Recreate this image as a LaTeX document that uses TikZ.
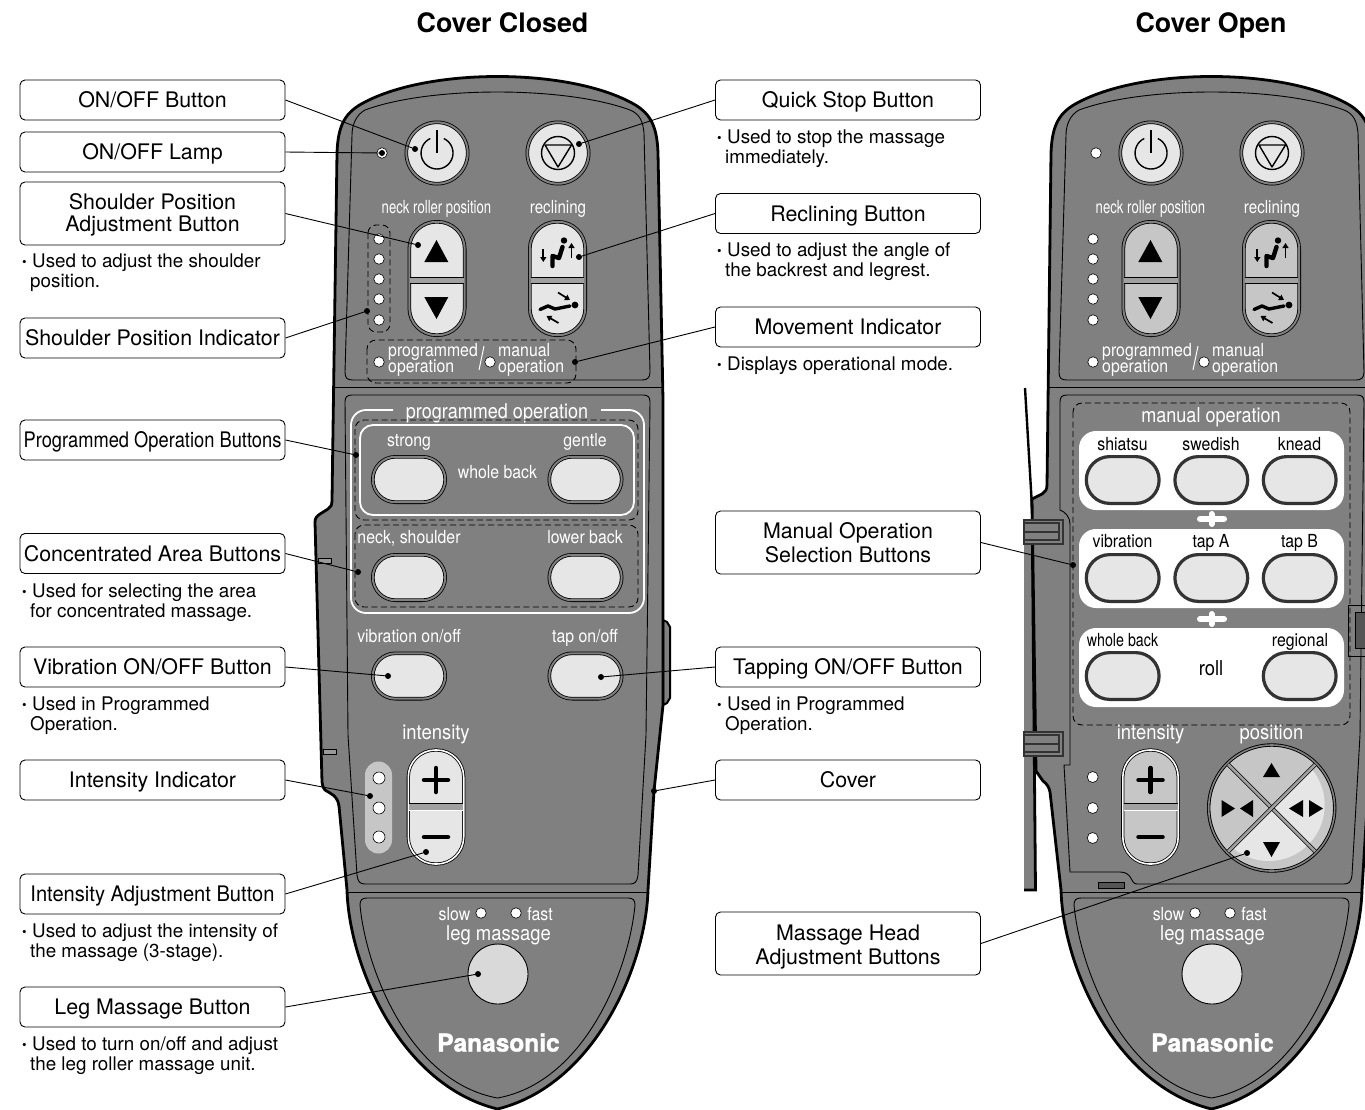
\documentclass[tikz,border=0pt]{standalone}
\usepackage{graphicx}
\usepackage{fontspec}
\setmainfont{TeX Gyre Heros}
\newfontfamily\makerfont[BoldFeatures={FakeBold=1.4}]{TeX Gyre Heros}
\usepackage{xcolor}
\usepackage{tikz}
\usetikzlibrary{shapes,arrows.meta,positioning,calc}

\definecolor{housing}{HTML}{808080}
\definecolor{keylight}{HTML}{E6E6E6}
\definecolor{keymid}{HTML}{C6C6C6}
\definecolor{rimdark}{HTML}{333333}
\definecolor{slotdark}{HTML}{555555}

\newcommand{\cn}[2]{\scalebox{#1}[1]{#2}}
\newcommand{\bul}{\makebox[10pt][l]{\fontsize{13}{13}\selectfont\raisebox{1.5pt}{•}}}
\newcommand{\nxt}{\\\hspace*{8pt}}

\tikzset{
    labelbox/.style={draw, line width=0.9pt, rounded corners=5pt, minimum width=265pt, minimum height=40pt, inner sep=0pt, align=center, font=\fontsize{21.4}{22}\selectfont},
    labelone/.style={labelbox, text height=15.4pt, text depth=0pt},
    notetxt/.style={anchor=west, inner sep=0pt, align=left, font=\fontsize{18.8}{20}\selectfont},
    headtxt/.style={inner sep=0pt, text height=19.2pt, text depth=0pt, font=\bfseries\fontsize{26.8}{30}\selectfont},
    remtxt/.style={text=white, inner sep=0pt, text height=13pt, text depth=0pt, font=\fontsize{18}{18}\selectfont},
    bigtxt/.style={remtxt, font=\fontsize{20.5}{20}\selectfont},
    blacktxt/.style={remtxt, text=black},
    leftrem/.style={remtxt, anchor=west},
    panelline/.style={line width=0.9pt},
    dashline/.style={line width=0.9pt, dash pattern=on 6pt off 3.5pt, rounded corners=9pt},
    whiteline/.style={draw=white, line width=1.8pt},
    roundkey/.style={circle, draw=black, line width=0.8pt, double=housing, double distance=2pt, inner sep=0pt, minimum size=61.4pt},
    rockerkey/.style={rectangle, rounded corners=27pt, draw=black, line width=0.8pt, double=housing, double distance=2pt, inner sep=0pt, minimum width=55.4pt, minimum height=113.4pt},
    ovalkey/.style={rounded rectangle, draw=black, line width=0.8pt, double=housing, double distance=2pt, fill=keylight, inner sep=0pt, minimum width=72.4pt, minimum height=45.4pt},
    manualkey/.style={rounded rectangle, draw=rimdark, line width=3.2pt, fill=keylight, inner sep=0pt, minimum width=72.8pt, minimum height=46.8pt},
    lednode/.style={circle, draw=black, line width=0.6pt, fill=white, inner sep=0pt, minimum size=10.5pt},
    iconline/.style={line width=1.4pt},
    seatline/.style={line width=4.4pt, line cap=round, line join=round},
    seatarrow/.style={line width=1.7pt, -{Triangle[length=5pt,width=6pt]}},
    signline/.style={line width=4.5pt, line cap=round},
    keyband/.style={fill=housing!75!white},
    leader/.style={line width=0.9pt},
    leaderdot/.style={circle, fill=black, inner sep=0pt, minimum size=6pt}
}

% upper part, same on both remotes; #1 = fill of the rocker keys
\newcommand{\remotetop}[1]{
    \draw[panelline] (345,372) -- (352,135) .. controls (352,125) and (356,115) .. (365,110)
        .. controls (430,86) and (565,86) .. (630,110) .. controls (640,114) and (643,122) .. (644,133)
        -- (650,372) .. controls (650,378) and (647,380) .. (642,380) -- (353,380)
        .. controls (347,380) and (345,378) .. (345,372);
    \draw[panelline] (333,387) -- (663,387);

    \node[roundkey, fill=keylight] (pwrkey) at (437,153) {};
    \draw[iconline] (437,130) -- (437,153);
    \draw[iconline] (443.8,138.5) arc[start angle=65, end angle=-245, radius=16pt];
    \node[roundkey, fill=keylight] (stopkey) at (558,153) {};
    \node[circle, draw, iconline, inner sep=0pt, minimum size=33pt] (stopring) at (558,153) {};
    \draw[iconline, line join=round] (545,145) -- (571.5,145) -- (558,167) -- cycle;

    \node[remtxt] (necktxt) at (436.5,207) {\cn{.73}{neck roller position}};
    \node[remtxt] (recltxt) at (558,207) {\cn{.84}{reclining}};

    \node[rockerkey, fill=#1] (neckkey) at (437,278.5) {};
    \fill[keyband] (410,277) rectangle (464,283);
    \draw[line width=0.7pt] (410,277) -- (464,277) (410,283) -- (464,283);
    \fill (424.3,262) -- (448.3,262) -- (436.5,240) -- cycle;
    \fill (424.3,297) -- (448.3,297) -- (436.5,319) -- cycle;

    \node[rockerkey, fill=#1] (reclkey) at (557.5,278.5) {};
    \fill[keyband] (531,277) rectangle (584,283);
    \draw[line width=0.7pt] (531,277) -- (584,277) (531,283) -- (584,283);
    % seated and lying figures
    \fill (564,240.5) circle (3.2pt);
    \draw[seatline] (562.5,247) -- (559,258) -- (552.5,256) -- (552.5,266);
    \draw[seatarrow] (543.3,249) -- (543.3,262);
    \draw[seatarrow] (571.5,258) -- (571.5,243);
    \fill (575,305) circle (3.4pt);
    \draw[seatline, line width=3.4pt] (540,309.5) -- (548,306) -- (555,309) -- (570,306);
    \draw[seatarrow] (558,292.5) -- (570,300);
    \draw[seatarrow] (558.5,323) -- (546.5,316);

    \foreach \y in {239,259,279,299,320} {
        \node[lednode] (necklamp\y) at (379,\y) {};
    }
    \node[lednode] (proglamp) at (379,362) {};
    \node[lednode] (manlamp) at (490,362) {};
    \node[leftrem] (progtxta) at (388,350) {\cn{.88}{programmed}};
    \node[leftrem] (progtxtb) at (388,366) {\cn{.88}{operation}};
    \draw[draw=white, line width=1pt] (479,370) -- (484,346);
    \node[leftrem] (mantxta) at (498,350) {\cn{.88}{manual}};
    \node[leftrem] (mantxtb) at (498,366) {\cn{.88}{operation}};
}

% intensity column and leg panel; #1 = fill of the intensity keys
\newcommand{\remotebottom}[2]{
    \node[bigtxt] (inttxt) at (#2,733) {\cn{.9}{intensity}};
    \node[rockerkey, fill=#1, double=white, double distance=1.6pt, minimum height=114pt] (intkey) at (#2,807) {};
    \fill[keyband] (#2-27,803) rectangle (#2+27,811);
    \draw[line width=0.7pt] (#2-27,803) -- (#2+27,803);
    \draw[line width=1.6pt, white] (#2-27,810.5) -- (#2+27,810.5);
    \draw[signline] (#2-12,780) -- (#2+12,780) (#2,768) -- (#2,792);
    \draw[signline] (#2-12,837) -- (#2+12,837);

    \draw[panelline] (346,892) -- (648,892);
    \draw[panelline] (360,905) .. controls (360,900) and (362,898) .. (367,898) -- (628,898)
        .. controls (633,898) and (635,900) .. (635,905)
        .. controls (629,970) and (585,1082) .. (497.5,1098)
        .. controls (410,1082) and (366,970) .. (360,905);
    \node[remtxt] (slowtxt) at (454.5,914) {\cn{.88}{slow}};
    \node[lednode] (slowlamp) at (481,913) {};
    \node[lednode] (fastlamp) at (516,913) {};
    \node[remtxt] (fasttxt) at (540,914) {\cn{.88}{fast}};
    \node[bigtxt] (legtxt) at (498.5,934) {\cn{.9}{leg massage}};
    \node[remtxt, inner sep=0pt, text height=17pt, text depth=0pt, font=\makerfont\bfseries\fontsize{24.5}{24}\selectfont] (makertxt) at (498.5,1043) {Panasonic};
}

\begin{document}
\begin{tikzpicture}[x=1pt, y=-1pt]
    \useasboundingbox (0,0) rectangle (1365,1109);

    \node[headtxt] (closedhead) at (502.5,23) {Cover Closed};
    \node[headtxt] (openhead) at (1211,23) {Cover Open};

    \begin{scope}
    \clip (0,0) rectangle (1365,1109);

    % Cover closed
    \draw[line width=2pt, fill=housing] (663,620) -- (667,622) -- (670,627) -- (670,698) -- (667,703) -- (663,705) -- cycle;
    \draw[line width=2.8pt, fill=housing, line join=round] (337,153) .. controls (338,125) and (345,112) .. (365,102)
        .. controls (430,68) and (565,68) .. (630,102) .. controls (650,112) and (657,125) .. (658,153)
        -- (663,400) -- (663,705) -- (654,791) -- (648,890)
        .. controls (646,965) and (595,1085) .. (497.5,1109)
        .. controls (400,1085) and (349,965) .. (347,890)
        -- (339,806) .. controls (338,799) and (335,796) .. (330,793) -- (325,790) .. controls (323,788) and (323,787) .. (322,782)
        -- (315,522) .. controls (315,518) and (317,516) .. (320,514) -- (328,509) .. controls (331,507) and (332,505) .. (332,500)
        -- cycle;
    \draw[line width=0.7pt, fill=housing!80!white] (318,558) rectangle (331,563);
    \draw[line width=0.7pt, fill=housing!80!white] (323,749) rectangle (336,754);
    \remotetop{keylight}
    \draw[panelline] (345,402) .. controls (345,397) and (347,395) .. (352,395) -- (643,395)
        .. controls (648,395) and (650,397) .. (650,402) -- (646,735) -- (638,875)
        .. controls (637,882) and (635,884) .. (630,884) -- (365,884)
        .. controls (360,884) and (358,882) .. (357,875) -- (348,735) -- cycle;

    \draw[dashline, rounded corners=8pt] (368,225) rectangle (390,332);
    \draw[dashline] (367,340) rectangle (576,383);

    \draw[whiteline, rounded corners=15pt] (393,410) -- (351,410) -- (351,613) -- (644,613) -- (644,410) -- (601,410);
    \node[bigtxt] (progtitle) at (497,412) {\cn{.88}{programmed operation}};
    \draw[whiteline, rounded corners=13pt] (360,425) rectangle (634,515);
    \draw[dashline] (355,420) rectangle (638,520);
    \draw[dashline] (355,525) rectangle (638,607);

    \node[remtxt] (strongtxt) at (409,440) {\cn{.88}{strong}};
    \node[remtxt] (gentletxt) at (585,440) {\cn{.88}{gentle}};
    \node[remtxt] (backtxt) at (497.5,472) {\cn{.88}{whole back}};
    \node[remtxt] (necktxtb) at (409,537) {\cn{.88}{neck, shoulder}};
    \node[remtxt] (lowertxt) at (585,537) {\cn{.88}{lower back}};
    \node[remtxt] (vibtxt) at (409,636) {\cn{.88}{vibration on/off}};
    \node[remtxt] (taptxt) at (585,636) {\cn{.88}{tap on/off}};
    \node[ovalkey] (strongkey) at (409,479.5) {};
    \node[ovalkey] (gentlekey) at (585.5,479.5) {};
    \node[ovalkey] (neckoval) at (409,577.5) {};
    \node[ovalkey] (lowerkey) at (585.5,577.5) {};
    \node[ovalkey] (vibkey) at (409,676) {};
    \node[ovalkey] (tapkey) at (585.5,676) {};

    \fill[keymid] (365,775) arc[start angle=180, end angle=0, radius=13.5pt] -- (392,840) arc[start angle=0, end angle=-180, radius=13.5pt] -- cycle;
    \foreach \y in {778,808,837} {
        \node[lednode, minimum size=12pt] (intlamp\y) at (379,\y) {};
    }
    \remotebottom{keylight}{436}
    \node[circle, draw, line width=0.9pt, fill=black!15, inner sep=0pt, minimum size=60pt] (legkey) at (498,974) {};

    % Cover open: side view of the lid
    \draw[line width=2.4pt, fill=white] (1025,388) -- (1032,507);
    \fill[housing] (1024,520) -- (1033,520) -- (1035.5,890) -- (1024,890) -- cycle;
    \draw[line width=2.8pt] (1032,498) -- (1035.5,890) -- (1024,890);

    % Cover open: body
    \begin{scope}[xshift=714pt, name prefix=open-]
    \draw[line width=2.8pt, fill=housing, line join=round] (337,153) .. controls (338,125) and (345,112) .. (365,102)
        .. controls (430,68) and (565,68) .. (630,102) .. controls (650,112) and (657,125) .. (658,153)
        -- (663,400) -- (663,705) -- (654,791) -- (648,890)
        .. controls (646,965) and (595,1085) .. (497.5,1109)
        .. controls (400,1085) and (349,965) .. (347,890)
        -- (336,792) .. controls (335,787) and (333,784) .. (329,781) -- (322,771)
        -- (318,499) -- (328,494) .. controls (331,492) and (333,490) .. (333,485)
        -- cycle;
    \remotetop{keymid}
    \end{scope}
    \node[lednode] (openlamp) at (1096,153) {};
    \node[lednode] (closedlamp) at (382,153) {};

    \draw[panelline] (1060,402) .. controls (1060,397) and (1062,395) .. (1067,395) -- (1357,395)
        .. controls (1362,395) and (1364,397) .. (1364,402) -- (1360,735) -- (1352,875)
        .. controls (1351,882) and (1349,884) .. (1344,884) -- (1137,884)
        .. controls (1130,884) and (1133,872) .. (1120,872) -- (1070,872)
        -- (1064,765) -- (1070,765) -- (1070,525) .. controls (1070,516) and (1065,512) .. (1060,510) -- cycle;
    \draw[line width=0.7pt, fill=slotdark] (1098,882) rectangle (1124,888);
    \draw[line width=0.8pt] (1365,605) -- (1348,605) -- (1348,656) -- (1365,656);
    \draw[line width=0.7pt, fill=slotdark] (1355,612) rectangle (1367,648);

    \foreach \y in {520,732} {
        \draw[line width=1.1pt, draw=rimdark, fill=housing] (1024,\y) rectangle (1063,\y+24);
        \draw[line width=2pt, draw=rimdark] (1024,\y+3) -- (1059,\y+3) -- (1059,\y+20) -- (1024,\y+20);
        \draw[line width=2pt, draw=rimdark] (1024,\y+11.5) -- (1059,\y+11.5);
    }

    % manual operation panel
    \draw[dashline] (1073,403) rectangle (1350,725);
    \node[bigtxt] (mantitle) at (1211,416) {\cn{.88}{manual operation}};
    \foreach \y in {431,529,628} {
        \fill[white, rounded corners=17pt] (1079,\y) rectangle (1344,\y+79);
    }
    \foreach \y in {519,619} {
        \draw[white, line width=6pt, line cap=round] (1200,\y) -- (1224,\y) (1211.5,\y-5) -- (1211.5,\y+5);
    }
    \node[blacktxt] (shiatsutxt) at (1122.5,444) {\cn{.88}{shiatsu}};
    \node[blacktxt] (swedishtxt) at (1211,444) {\cn{.88}{swedish}};
    \node[blacktxt] (kneadtxt) at (1299.5,444) {\cn{.88}{knead}};
    \node[blacktxt] (vibrtxt) at (1122.5,541) {\cn{.88}{vibration}};
    \node[blacktxt] (tapatxt) at (1211,541) {\cn{.88}{tap A}};
    \node[blacktxt] (tapbtxt) at (1299.5,541) {\cn{.88}{tap B}};
    \node[blacktxt] (wholetxt) at (1122.5,640) {\cn{.79}{whole back}};
    \node[blacktxt] (regiontxt) at (1300,640) {\cn{.88}{regional}};
    \node[blacktxt, font=\fontsize{20.5}{20}\selectfont] (rolltxt) at (1211,669) {\cn{.9}{roll}};
    \node[manualkey] (shiatsukey) at (1122.7,480) {};
    \node[manualkey] (swedishkey) at (1211.3,480) {};
    \node[manualkey] (kneadkey) at (1299.7,480) {};
    \node[manualkey] (vibrkey) at (1122.7,578) {};
    \node[manualkey] (tapakey) at (1211.3,578) {};
    \node[manualkey] (tapbkey) at (1299.7,578) {};
    \node[manualkey] (wholekey) at (1122.7,676) {};
    \node[manualkey] (regionkey) at (1299.7,676) {};

    \foreach \y in {777,808,838} {
        \node[lednode, minimum size=11pt] (openint\y) at (1092.7,\y) {};
    }

    % position cross
    \node[bigtxt] (postxt) at (1271.5,733) {\cn{.9}{position}};
    \node[circle, draw=black, line width=0.9pt, double=housing, double distance=1.6pt, fill=keymid, inner sep=0pt, minimum size=126pt] (poskey) at (1271.7,808) {};
    \begin{scope}
        \clip (1268.7,805) circle (56pt);
        \fill[keylight] (1271.7,808) -- (1341.7,738) -- (1341.7,878) -- (1201.7,878) -- cycle;
    \end{scope}
    \draw[line width=0.7pt, double=housing!75!white, double distance=2.6pt] (1228.2,764.5) -- (1315.2,851.5);
    \draw[line width=0.7pt, double=housing!75!white, double distance=2.6pt] (1315.2,764.5) -- (1228.2,851.5);
    \fill (1263,777) -- (1280,777) -- (1271.5,763) -- cycle;
    \fill (1263,842) -- (1280,842) -- (1271.5,857) -- cycle;
    \fill (1221.5,800) -- (1221.5,817) -- (1235,808.5) -- cycle;
    \fill (1253,800) -- (1253,817) -- (1240,808.5) -- cycle;
    \fill (1303,800) -- (1303,817) -- (1289,808.5) -- cycle;
    \fill (1309,800) -- (1309,817) -- (1323,808.5) -- cycle;

    \begin{scope}[xshift=714pt, name prefix=open-]
    \remotebottom{keymid}{436.5}
    \node[circle, draw, line width=0.9pt, fill=keylight, inner sep=0pt, minimum size=60pt] (legkey) at (498,974) {};
    \end{scope}
    \end{scope}

    % Left labels
    \node[labelone] (onoffbtn) at (152.5,100) {ON/OFF Button};
    \node[labelone] (onofflamp) at (152.5,152) {ON/OFF Lamp};
    \node[labelbox, minimum height=63pt] (shoulderbtn) at (152.5,213.5) {\rule{0pt}{18pt}Shoulder Position\\Adjustment Button};
    \node[notetxt] (shouldernote) at (22,273) {\bul Used to adjust the shoulder\nxt position.};
    \node[labelone] (shoulderind) at (152.5,338) {Shoulder Position Indicator};
    \node[labelone] (progbtns) at (152.5,440) {\cn{.855}{Programmed Operation Buttons}};
    \node[labelone] (areabtns) at (152.5,553.5) {Concentrated Area Buttons};
    \node[notetxt] (areanote) at (22,603) {\bul Used for selecting the area\nxt for concentrated massage.};
    \node[labelone] (vibbtn) at (152.5,667) {Vibration ON/OFF Button};
    \node[notetxt] (vibnote) at (22,716) {\bul Used in Programmed\nxt Operation.};
    \node[labelone] (intind) at (152.5,780) {Intensity Indicator};
    \node[labelone] (intbtn) at (152.5,894) {\cn{.94}{Intensity Adjustment Button}};
    \node[notetxt] (intnote) at (22,943) {\bul Used to adjust the intensity of\nxt the massage (3-stage).};
    \node[labelone] (legbtn) at (152.5,1007) {Leg Massage Button};
    \node[notetxt] (legnote) at (22,1056) {\bul Used to turn on/off and adjust\nxt the leg roller massage unit.};

    % Right labels
    \node[labelone] (stopbtn) at (848,100) {Quick Stop Button};
    \node[notetxt] (stopnote) at (717,149) {\bul Used to stop the massage\nxt immediately.};
    \node[labelone] (reclbtn) at (848,213.5) {Reclining Button};
    \node[notetxt] (reclnote) at (717,262) {\bul Used to adjust the angle of\nxt the backrest and legrest.};
    \node[labelone] (moveind) at (848,327) {Movement Indicator};
    \node[notetxt] (movenote) at (717,366) {\bul Displays operational mode.};
    \node[labelbox, minimum height=63pt, font=\fontsize{21.4}{24}\selectfont] (manualbtns) at (848,542.5) {Manual Operation\\Selection Buttons};
    \node[labelone] (tapbtn) at (848,667) {Tapping ON/OFF Button};
    \node[notetxt] (tapnote) at (717,716) {\bul Used in Programmed\nxt Operation.};
    \node[labelone] (coverlbl) at (848,780) {Cover};
    \node[labelbox, minimum height=63pt, font=\fontsize{21.4}{24}\selectfont] (headbtns) at (848,943.5) {\rule{0pt}{23pt}Massage Head\\Adjustment Buttons};

    % Leader dots
    \node[leaderdot] (d1) at (415,149) {};
    \node[leaderdot] (d2) at (382,153) {};
    \node[leaderdot] (d3) at (418,245) {};
    \node[leaderdot] (d4) at (367,311) {};
    \node[leaderdot] (d5) at (356,455) {};
    \node[leaderdot] (d6) at (358,572) {};
    \node[leaderdot] (d7) at (388,676) {};
    \node[leaderdot] (d8) at (370,796) {};
    \node[leaderdot] (d9) at (426,852) {};
    \node[leaderdot] (d10) at (478,974) {};
    \node[leaderdot] (d11) at (579,144) {};
    \node[leaderdot] (d12) at (579,257) {};
    \node[leaderdot] (d13) at (575,362) {};
    \node[leaderdot] (d14) at (1073,565) {};
    \node[leaderdot] (d15) at (601,677) {};
    \node[leaderdot] (d16) at (654,791) {};
    \node[leaderdot] (d17) at (1247,853) {};

    \draw[leader] (onoffbtn.east) -- (d1);
    \draw[leader] (onofflamp.east) -- (d2);
    \draw[leader] (shoulderbtn.east) -- (d3);
    \draw[leader] (shoulderind.east) -- (d4);
    \draw[leader] (progbtns.east) -- (d5);
    \draw[leader] (areabtns.east) -- (d6);
    \draw[leader] (vibbtn.east) -- (d7);
    \draw[leader] (intind.east) -- (d8);
    \draw[leader] (intbtn.east) -- (d9);
    \draw[leader] (legbtn.east) -- (d10);
    \draw[leader] (stopbtn.west) -- (d11);
    \draw[leader] (reclbtn.west) -- (d12);
    \draw[leader] (moveind.west) -- (d13);
    \draw[leader] (manualbtns.east) -- (d14);
    \draw[leader] (tapbtn.west) -- (d15);
    \draw[leader] (coverlbl.west) -- (d16);
    \draw[leader] (headbtns.east) -- (d17);
\end{tikzpicture}
\end{document}
